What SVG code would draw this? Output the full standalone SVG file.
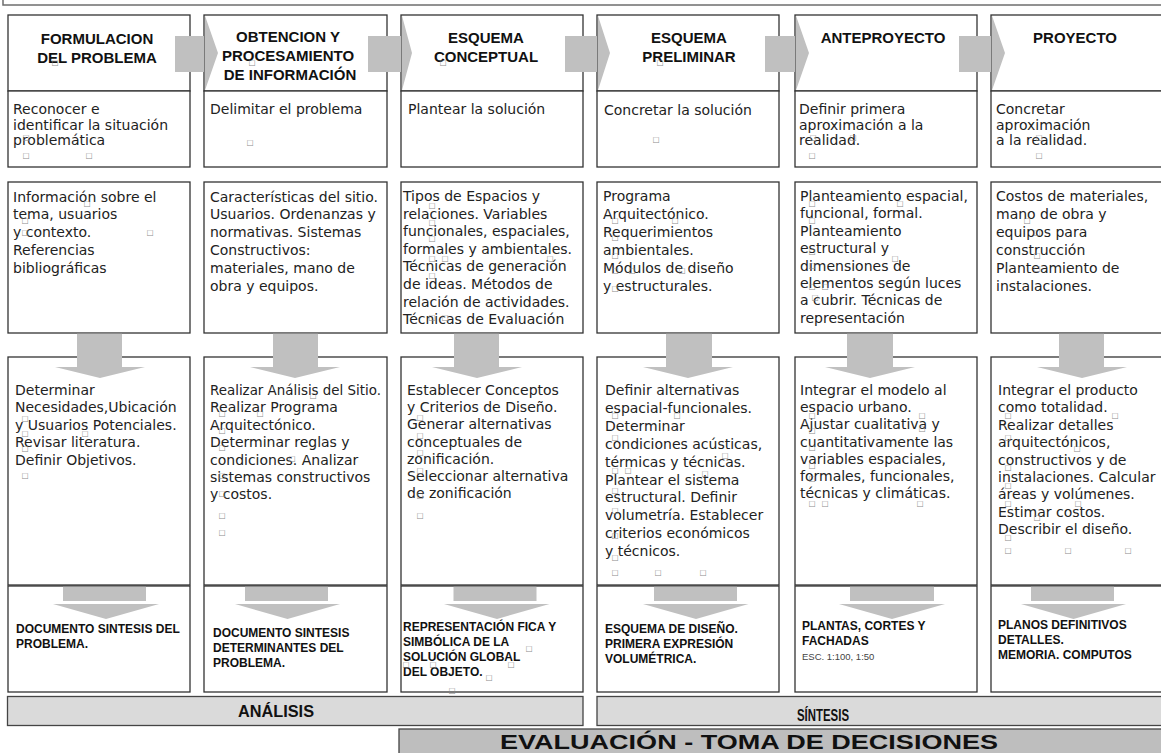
<svg xmlns="http://www.w3.org/2000/svg" width="1161" height="753" viewBox="0 0 1161 753">
<defs>
<style>
.bg{fill:#ffffff}
.frame{fill:none;stroke:#6e6e6e;stroke-width:1.5}
.box{fill:#ffffff;stroke:#333333;stroke-width:1.3}
.bar1{fill:#dadada;stroke:#444444;stroke-width:1.3}
.bar2{fill:#bebebe;stroke:#444444;stroke-width:1.3}
.arr{fill:#c0c0c0;stroke:none}
.hdr{font-family:"Liberation Sans",Arial,sans-serif;font-weight:bold;font-size:15px;fill:#111111;text-anchor:middle}
.txt{font-family:"DejaVu Sans","Liberation Sans",sans-serif;font-size:14px;fill:#222222}
.out{font-family:"Liberation Sans",Arial,sans-serif;font-weight:bold;font-size:12px;fill:#111111}
.small{font-family:"Liberation Sans",Arial,sans-serif;font-size:9.5px;fill:#444444}
.barlbl{font-family:"Liberation Sans",Arial,sans-serif;font-weight:bold;font-size:17px;fill:#111111}
.tofu{font-family:"DejaVu Sans",sans-serif;font-size:7.5px;fill:#8a8a8a;text-anchor:middle}
</style>
</defs>
<rect class="bg" x="0" y="0" width="1161" height="753"/>
<rect class="frame" x="3" y="-20" width="1180" height="25"/>

<!-- Column 1 -->
<g id="h1"><rect class="box" x="8" y="15" width="182" height="76"/>
<text class="hdr" x="97" y="44">FORMULACION</text><text class="hdr" x="97" y="63">DEL PROBLEMA</text></g>
<g id="g1"><rect class="box" x="8" y="91" width="182" height="76"/>
<text class="txt" x="13" y="114">Reconocer e</text><text class="txt" x="13" y="129.5">identificar la situación</text><text class="txt" x="13" y="145">problemática</text></g>
<g id="i1"><rect class="box" x="8" y="182" width="182" height="151"/>
<text class="txt" x="13" y="201.5">Información sobre el</text><text class="txt" x="13" y="219.3">tema, usuarios</text><text class="txt" x="13" y="237.1">y contexto.</text><text class="txt" x="13" y="254.9">Referencias</text><text class="txt" x="13" y="272.7">bibliográficas</text></g>
<g id="a1"><rect class="box" x="8" y="357" width="182" height="228"/>
<text class="txt" x="15" y="395">Determinar</text><text class="txt" x="15" y="412.4">Necesidades,Ubicación</text><text class="txt" x="15" y="429.8">y Usuarios Potenciales.</text><text class="txt" x="15" y="447.2">Revisar literatura.</text><text class="txt" x="15" y="464.6">Definir Objetivos.</text></g>
<g id="p1"><rect class="box" x="8" y="586" width="182" height="106"/>
<text class="out" x="16" y="633">DOCUMENTO SINTESIS DEL</text><text class="out" x="16" y="648">PROBLEMA.</text></g>

<!-- Column 2 -->
<g id="h2"><rect class="box" x="204" y="15" width="183" height="76"/>
<text class="hdr" x="288" y="41.7">OBTENCION Y</text><text class="hdr" x="288" y="60.7">PROCESAMIENTO</text><text class="hdr" x="290" y="79.7">DE INFORMACIÓN</text></g>
<g id="g2"><rect class="box" x="204" y="91" width="183" height="76"/>
<text class="txt" x="210" y="114">Delimitar el problema</text></g>
<g id="i2"><rect class="box" x="204" y="182" width="183" height="151"/>
<text class="txt" x="210" y="201.5">Características del sitio.</text><text class="txt" x="210" y="219.3">Usuarios. Ordenanzas y</text><text class="txt" x="210" y="237.1">normativas. Sistemas</text><text class="txt" x="210" y="254.9">Constructivos:</text><text class="txt" x="210" y="272.7">materiales, mano de</text><text class="txt" x="210" y="290.5">obra y equipos.</text></g>
<g id="a2"><rect class="box" x="204" y="357" width="183" height="228"/>
<text class="txt" x="210" y="395" textLength="171" lengthAdjust="spacingAndGlyphs">Realizar Análisis del Sitio.</text><text class="txt" x="210" y="412.4">Realizar Programa</text><text class="txt" x="210" y="429.8">Arquitectónico.</text><text class="txt" x="210" y="447.2">Determinar reglas y</text><text class="txt" x="210" y="464.6">condiciones. Analizar</text><text class="txt" x="210" y="482">sistemas constructivos</text><text class="txt" x="210" y="499.4">y costos.</text></g>
<g id="p2"><rect class="box" x="204" y="586" width="183" height="106"/>
<text class="out" x="213" y="637">DOCUMENTO SINTESIS</text><text class="out" x="213" y="652">DETERMINANTES DEL</text><text class="out" x="213" y="667">PROBLEMA.</text></g>

<!-- Column 3 -->
<g id="h3"><rect class="box" x="401" y="15" width="182" height="76"/>
<text class="hdr" x="486" y="43.3">ESQUEMA</text><text class="hdr" x="486" y="61.7">CONCEPTUAL</text></g>
<g id="g3"><rect class="box" x="401" y="91" width="182" height="76"/>
<text class="txt" x="408" y="114">Plantear la solución</text></g>
<g id="i3"><rect class="box" x="401" y="182" width="182" height="151"/>
<text class="txt" x="403" y="201">Tipos de Espacios y</text><text class="txt" x="403" y="218.6">relaciones. Variables</text><text class="txt" x="403" y="236.2">funcionales, espaciales,</text><text class="txt" x="403" y="253.8">formales y ambientales.</text><text class="txt" x="403" y="271.4">Técnicas de generación</text><text class="txt" x="403" y="289">de ideas. Métodos de</text><text class="txt" x="403" y="306.6">relación de actividades.</text><text class="txt" x="403" y="324.2">Técnicas de Evaluación</text></g>
<g id="a3"><rect class="box" x="401" y="357" width="182" height="228"/>
<text class="txt" x="407" y="395">Establecer Conceptos</text><text class="txt" x="407" y="412.2">y Criterios de Diseño.</text><text class="txt" x="407" y="429.4">Generar alternativas</text><text class="txt" x="407" y="446.6">conceptuales de</text><text class="txt" x="407" y="463.8">zonificación.</text><text class="txt" x="407" y="481">Seleccionar alternativa</text><text class="txt" x="407" y="498.2">de zonificación</text></g>
<g id="p3"><rect class="box" x="401" y="586" width="182" height="106"/>
<text class="out" x="403" y="631">REPRESENTACIÓN FICA Y</text><text class="out" x="403" y="646">SIMBÓLICA DE LA</text><text class="out" x="403" y="661">SOLUCIÓN GLOBAL</text><text class="out" x="403" y="676">DEL OBJETO.</text></g>

<!-- Column 4 -->
<g id="h4"><rect class="box" x="597" y="15" width="182" height="76"/>
<text class="hdr" x="689" y="43.3">ESQUEMA</text><text class="hdr" x="689" y="61.7">PRELIMINAR</text></g>
<g id="g4"><rect class="box" x="597" y="91" width="182" height="76"/>
<text class="txt" x="604" y="115">Concretar la solución</text></g>
<g id="i4"><rect class="box" x="597" y="182" width="182" height="151"/>
<text class="txt" x="603" y="200.5">Programa</text><text class="txt" x="603" y="218.5">Arquitectónico.</text><text class="txt" x="603" y="236.5">Requerimientos</text><text class="txt" x="603" y="254.5">ambientales.</text><text class="txt" x="603" y="272.5">Módulos de diseño</text><text class="txt" x="603" y="290.5">y estructurales.</text></g>
<g id="a4"><rect class="box" x="597" y="357" width="182" height="228"/>
<text class="txt" x="605" y="395">Definir alternativas</text><text class="txt" x="605" y="412.9">espacial-funcionales.</text><text class="txt" x="605" y="430.8">Determinar</text><text class="txt" x="605" y="448.7">condiciones acústicas,</text><text class="txt" x="605" y="466.6">térmicas y técnicas.</text><text class="txt" x="605" y="484.5">Plantear el sistema</text><text class="txt" x="605" y="502.4">estructural. Definir</text><text class="txt" x="605" y="520.3">volumetría. Establecer</text><text class="txt" x="605" y="538.2">criterios económicos</text><text class="txt" x="605" y="556.1">y técnicos.</text></g>
<g id="p4"><rect class="box" x="597" y="586" width="182" height="106"/>
<text class="out" x="605" y="633">ESQUEMA DE DISEÑO.</text><text class="out" x="605" y="648">PRIMERA EXPRESIÓN</text><text class="out" x="605" y="663">VOLUMÉTRICA.</text></g>

<!-- Column 5 -->
<g id="h5"><rect class="box" x="795" y="15" width="182" height="76"/>
<text class="hdr" x="883" y="43.3">ANTEPROYECTO</text></g>
<g id="g5"><rect class="box" x="795" y="91" width="182" height="76"/>
<text class="txt" x="799" y="114">Definir primera</text><text class="txt" x="799" y="129.5">aproximación a la</text><text class="txt" x="799" y="145">realidad.</text></g>
<g id="i5"><rect class="box" x="795" y="182" width="182" height="151"/>
<text class="txt" x="800" y="201">Planteamiento espacial,</text><text class="txt" x="800" y="218.4">funcional, formal.</text><text class="txt" x="800" y="235.8">Planteamiento</text><text class="txt" x="800" y="253.2">estructural y</text><text class="txt" x="800" y="270.6">dimensiones de</text><text class="txt" x="800" y="288">elementos según luces</text><text class="txt" x="800" y="305.4">a cubrir. Técnicas de</text><text class="txt" x="800" y="322.8">representación</text></g>
<g id="a5"><rect class="box" x="795" y="357" width="182" height="228"/>
<text class="txt" x="800" y="395">Integrar el modelo al</text><text class="txt" x="800" y="412.2">espacio urbano.</text><text class="txt" x="800" y="429.4">Ajustar cualitativa y</text><text class="txt" x="800" y="446.6">cuantitativamente las</text><text class="txt" x="800" y="463.8">variables espaciales,</text><text class="txt" x="800" y="481">formales, funcionales,</text><text class="txt" x="800" y="498.2">técnicas y climáticas.</text></g>
<g id="p5"><rect class="box" x="795" y="586" width="182" height="106"/>
<text class="out" x="802" y="630">PLANTAS, CORTES Y</text><text class="out" x="802" y="645">FACHADAS</text><text class="small" x="802" y="660">ESC. 1:100, 1:50</text></g>

<!-- Column 6 -->
<g id="h6"><rect class="box" x="991" y="15" width="182" height="76"/>
<text class="hdr" x="1075" y="43.3">PROYECTO</text></g>
<g id="g6"><rect class="box" x="991" y="91" width="182" height="76"/>
<text class="txt" x="996" y="114">Concretar</text><text class="txt" x="996" y="129.5">aproximación</text><text class="txt" x="996" y="145">a la realidad.</text></g>
<g id="i6"><rect class="box" x="991" y="182" width="182" height="151"/>
<text class="txt" x="996" y="201">Costos de materiales,</text><text class="txt" x="996" y="219">mano de obra y</text><text class="txt" x="996" y="237">equipos para</text><text class="txt" x="996" y="255">construcción</text><text class="txt" x="996" y="273">Planteamiento de</text><text class="txt" x="996" y="291">instalaciones.</text></g>
<g id="a6"><rect class="box" x="991" y="357" width="182" height="228"/>
<text class="txt" x="998" y="395">Integrar el producto</text><text class="txt" x="998" y="412.4">como totalidad.</text><text class="txt" x="998" y="429.8">Realizar detalles</text><text class="txt" x="998" y="447.2">arquitectónicos,</text><text class="txt" x="998" y="464.6">constructivos y de</text><text class="txt" x="998" y="482">instalaciones. Calcular</text><text class="txt" x="998" y="499.4">áreas y volúmenes.</text><text class="txt" x="998" y="516.8">Estimar costos.</text><text class="txt" x="998" y="534.2">Describir el diseño.</text></g>
<g id="p6"><rect class="box" x="991" y="586" width="182" height="106"/>
<text class="out" x="998" y="629">PLANOS DEFINITIVOS</text><text class="out" x="998" y="644">DETALLES.</text><text class="out" x="998" y="659">MEMORIA. COMPUTOS</text></g>

<!-- Phase bars -->
<g id="analisis"><rect class="bar1" x="7.5" y="696.5" width="575.5" height="29"/>
<text class="barlbl" x="238" y="717" textLength="76" lengthAdjust="spacingAndGlyphs">ANÁLISIS</text></g>
<g id="sintesis"><rect class="bar1" x="597" y="696.5" width="580" height="29"/>
<text class="barlbl" x="797" y="721" textLength="52" lengthAdjust="spacingAndGlyphs">SÍNTESIS</text></g>
<g id="evaluacion"><rect class="bar2" x="399" y="729" width="780" height="40"/>
<text class="barlbl" x="500" y="748.5" textLength="498" lengthAdjust="spacingAndGlyphs" style="font-size:19.5px">EVALUACIÓN - TOMA DE DECISIONES</text></g>

<!-- Connectors -->
<g id="connectors">
<path class="arr" d="M175,36 H204 V72 H175 Z M205,15.7 L218,53 L205,90.3 Z"/>
<path class="arr" d="M368,36 H401 V72 H368 Z M402,15.7 L412,53 L402,90.3 Z"/>
<path class="arr" d="M565,36 H597 V72 H565 Z M598,15.7 L610,53 L598,90.3 Z"/>
<path class="arr" d="M765,36 H795 V72 H765 Z M796,15.7 L809,53 L796,90.3 Z"/>
<path class="arr" d="M959,36 H991 V72 H959 Z M992,15.7 L1005,53 L992,90.3 Z"/>

<path class="arr" d="M77,333.7 H122 V367 H145 L100,378 L55,367 H77 Z"/>
<path class="arr" d="M273,333.7 H318 V367 H340 L295,378 L250,367 H273 Z"/>
<path class="arr" d="M454,333.7 H499 V367 H522 L477,378 L432,367 H454 Z"/>
<path class="arr" d="M666,333.7 H712 V367 H733 L688,378 L643,367 H666 Z"/>
<path class="arr" d="M847,333.7 H893 V367 H915 L870,378 L825,367 H847 Z"/>
<path class="arr" d="M1059,333.7 H1104 V367 H1127 L1082,378 L1037,367 H1059 Z"/>

<path class="arr" d="M63,586.7 H146 V601 H63 Z M53,604 H159 L106,619 Z"/>
<path class="arr" d="M245,586.7 H328 V601 H245 Z M235,604 H340 L287.5,619 Z"/>
<path class="arr" d="M453.5,586.7 H536.5 V601 H453.5 Z M444,604 H549.5 L497,619 Z"/>
<path class="arr" d="M654,586.7 H737 V601 H654 Z M643,604 H748.5 L696,619 Z"/>
<path class="arr" d="M850,586.7 H934 V601 H850 Z M839,604 H945 L892,619 Z"/>
<path class="arr" d="M1031,586.7 H1114 V601 H1031 Z M1021,604 H1126 L1073.5,619 Z"/>
</g>

<!-- Missing-glyph marks as printed -->
<g id="glyph-marks" class="tofu">
<text x="55" y="65">□</text><text x="252" y="65">□</text><text x="443" y="65">□</text><text x="660" y="65">□</text>
<text x="26" y="140">□</text><text x="26" y="158">□</text><text x="89" y="158">□</text><text x="250" y="145">□</text><text x="656" y="142">□</text>
<text x="813" y="140">□</text><text x="853" y="140">□</text><text x="812" y="158">□</text><text x="1039" y="140">□</text><text x="1039" y="158">□</text>
<text x="87" y="206">□</text><text x="25" y="223">□</text><text x="25" y="235">□</text><text x="150" y="235">□</text>
<text x="432" y="208">□</text><text x="432" y="225">□</text><text x="432" y="241">□</text><text x="432" y="261">□</text><text x="445" y="261">□</text><text x="550" y="261">□</text><text x="432" y="278">□</text><text x="432" y="320">□</text><text x="445" y="320">□</text>
<text x="615" y="223">□</text><text x="675" y="223">□</text><text x="615" y="240">□</text><text x="615" y="258">□</text><text x="615" y="273">□</text><text x="632" y="273">□</text><text x="682" y="273">□</text><text x="615" y="291">□</text>
<text x="812" y="206">□</text><text x="900" y="206">□</text><text x="812" y="223">□</text><text x="812" y="254">□</text><text x="895" y="261">□</text><text x="812" y="268">□</text><text x="812" y="289">□</text><text x="825" y="289">□</text><text x="815" y="300">□</text>
<text x="1027" y="223">□</text><text x="1037" y="235">□</text><text x="1037" y="258">□</text><text x="1037" y="271">□</text>
<text x="25" y="421">□</text><text x="25" y="436">□</text><text x="85" y="436">□</text><text x="25" y="451">□</text><text x="25" y="478">□</text>
<text x="313" y="398">□</text><text x="222" y="416">□</text><text x="260" y="416">□</text><text x="222" y="433">□</text><text x="222" y="450">□</text><text x="292" y="461">□</text><text x="222" y="478">□</text><text x="222" y="496">□</text><text x="222" y="518">□</text><text x="222" y="535">□</text>
<text x="420" y="420">□</text><text x="420" y="438">□</text><text x="420" y="455">□</text><text x="420" y="473">□</text><text x="420" y="498">□</text><text x="420" y="518">□</text>
<text x="615" y="418">□</text><text x="677" y="418">□</text><text x="615" y="440">□</text><text x="725" y="458">□</text><text x="615" y="473">□</text><text x="628" y="473">□</text><text x="705" y="476">□</text><text x="615" y="493">□</text><text x="615" y="513">□</text><text x="615" y="538">□</text><text x="615" y="560">□</text><text x="615" y="575">□</text><text x="658" y="575">□</text><text x="703" y="575">□</text>
<text x="812" y="418">□</text><text x="922" y="418">□</text><text x="812" y="433">□</text><text x="922" y="431">□</text><text x="812" y="450">□</text><text x="812" y="468">□</text><text x="812" y="481">□</text><text x="812" y="506">□</text><text x="825" y="506">□</text><text x="920" y="506">□</text>
<text x="1008" y="418">□</text><text x="1115" y="418">□</text><text x="1008" y="440">□</text><text x="1077" y="451">□</text><text x="1008" y="470">□</text><text x="1008" y="488">□</text><text x="1078" y="506">□</text><text x="1008" y="506">□</text><text x="1037" y="520">□</text><text x="1008" y="540">□</text><text x="1008" y="553">□</text><text x="1068" y="553">□</text><text x="1128" y="553">□</text>
<text x="406" y="667">□</text><text x="433" y="667">□</text><text x="511" y="667">□</text><text x="529" y="651">□</text><text x="489" y="680">□</text><text x="452" y="693">□</text>
</g>
</svg>
